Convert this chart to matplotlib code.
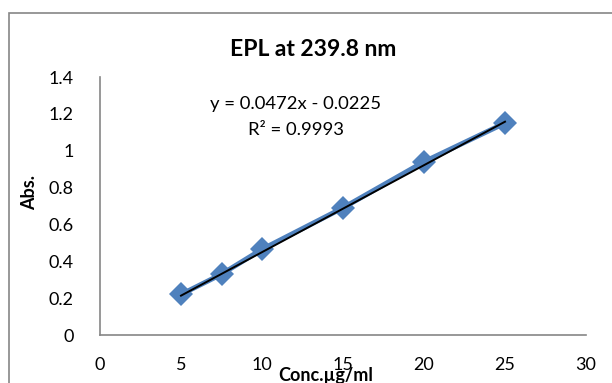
import numpy as np
import matplotlib.pyplot as plt
from matplotlib.patches import Rectangle

plt.rcParams['font.family'] = ['Lato', 'DejaVu Sans']

# calibration data
conc = [5, 7.5, 10, 15, 20, 25]
absorbance = [0.22, 0.33, 0.465, 0.69, 0.94, 1.15]

slope = 0.0472
intercept = -0.0225
r_squared = 0.9993

x_ticks = [0, 5, 10, 15, 20, 25, 30]
y_ticks = [0, 0.2, 0.4, 0.6, 0.8, 1, 1.2, 1.4]
y_tick_labels = ['0', '0.2', '0.4', '0.6', '0.8', '1', '1.2', '1.4']

blue = '#4F81BD'
grey = '#868686'

fig = plt.figure(figsize=(6.12, 3.83), dpi=100)

# chart-area border (runs off the right and bottom edges)
fig.patches.append(Rectangle((9 / 612, -0.1), 1.0, (383 - 13) / 383 + 0.1,
                             transform=fig.transFigure, fill=False,
                             edgecolor=grey, linewidth=1.2))

ax = fig.add_axes([100 / 612, 48 / 383, 486 / 612, 258 / 383])

ax.plot(conc, absorbance, color=blue, linewidth=3.6, marker='D',
        markersize=12.5, markeredgewidth=0)

fit_x = np.array([conc[0], conc[-1]])
ax.plot(fit_x, slope * fit_x + intercept, color='black', linewidth=1.4)

ax.set_xlim(0, 30)
ax.set_ylim(0, 1.4)
ax.set_xticks(x_ticks)
ax.set_yticks(y_ticks)
ax.set_yticklabels(y_tick_labels)
ax.tick_params(length=0, labelsize=13, colors='black')
ax.tick_params(axis='x', pad=16)
ax.tick_params(axis='y', pad=19)

for side in ['top', 'right']:
    ax.spines[side].set_visible(False)
for side in ['left', 'bottom']:
    ax.spines[side].set_color(grey)
    ax.spines[side].set_linewidth(1.2)

fig.text(313 / 612, 1 - 50 / 383, 'EPL at 239.8 nm', ha='center', va='center',
         fontsize=16.5, fontweight='bold')
fig.text(296 / 612, 1 - 104 / 383, f'y = {slope}x - {abs(intercept)}',
         ha='center', va='center', fontsize=13.3)
fig.text(296 / 612, 1 - 130 / 383, f'R² = {r_squared}',
         ha='center', va='center', fontsize=13.3)

fig.text(30 / 612, 1 - 193 / 383, 'Abs.', ha='center', va='center',
         rotation=90, fontsize=13, fontweight='bold')
fig.text(326 / 612, 1 - 376 / 383, 'Conc.µg/ml', ha='center', va='center',
         fontsize=13, fontweight='bold')

fig.savefig('out.png', dpi=100)
